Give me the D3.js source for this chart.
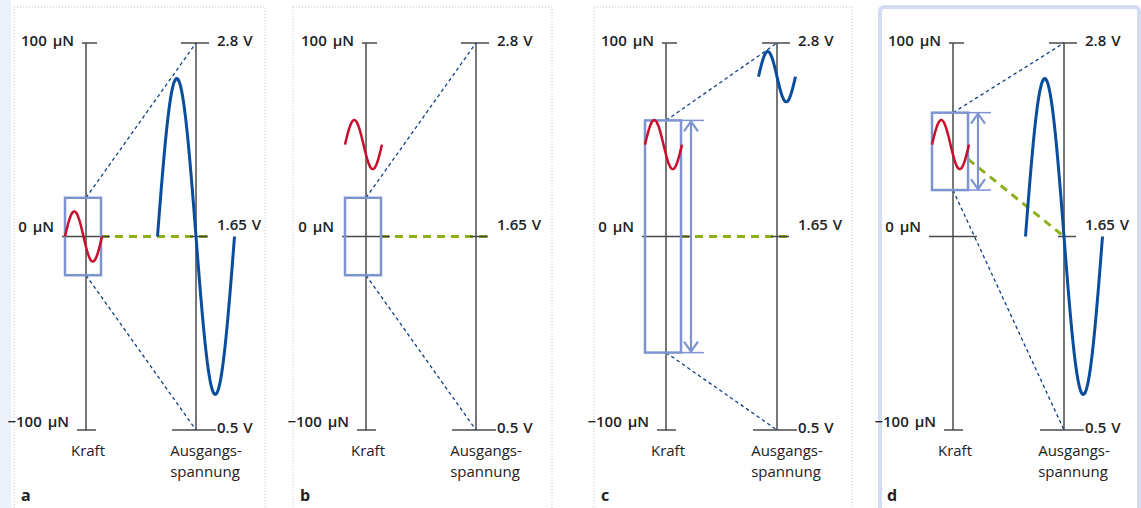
<!DOCTYPE html>
<html lang="de">
<head>
<meta charset="utf-8">
<script src="https://cdn.jsdelivr.net/npm/d3@7"></script>
<style>
  body { margin: 0; background: #fff; }
  text { font-family: "Open Sans", "DejaVu Sans", sans-serif; fill: #222; }
</style>
</head>
<body>
<svg id="chart"></svg>
<script>
// Daten
const panels = ["a", "b", "c", "d"];
const forceTicks = [100, 0, -100];
const forceTickLabels = ["100 µN", "0 µN", "−100 µN"];
const voltTicks = [2.8, 1.65, 0.5];
const voltTickLabels = ["2.8 V", "1.65 V", "0.5 V"];
// Messfenster (µN) pro Panel
const windowLow = [-20, -20, -60, 24];
const windowHigh = [20, 20, 60, 64];
// Kraftsignal (µN)
const forceCenter = [0, 47.5, 47.5, 47.5];
const forceAmp = [13, 12.7, 12.7, 12.7];
// Ausgangsspannung (V), null = kein Signal
const voltCenter = [1.65, null, 2.6, 1.65];
const voltAmp = [0.94, null, 0.15, 0.94];
// Ruhelage (µN), die auf 1.65 V abgebildet wird
const zeroForce = [0, 0, 0, 40];
const showArrow = [false, false, true, true];

// Layout
const width = 1141, height = 508;
const kraftX = [86, 366, 666, 953];
const outX = [196, 476, 777, 1064];
const frameL = [14, 293, 594, 880];
const frameR = [265, 552, 852, 1139];
const outSpan = [77, 0, 37, 77];
const greenExtra = [17, 17, 16, 0];

const svg = d3.select("#chart").attr("width", width).attr("height", height);

svg.append("rect").attr("width", width).attr("height", height).attr("fill", "#fff");
svg.append("rect").attr("x", 0).attr("y", 0).attr("width", 11).attr("height", height).attr("fill", "#edf1f9");

const yF = d3.scaleLinear().domain([-100, 100]).range([430, 43]);
const yV = d3.scaleLinear().domain([0.5, 2.8]).range([430, 43]);

const navy = "#0d3f86", blue = "#0a4d9c", red = "#c8102e", box = "#7d94d0", green = "#8cb11b", axis = "#4a4a4a";

const sineLine = d3.line().curve(d3.curveBasis);

function sine(x0, span, yc, amp) {
  const pts = [];
  for (let i = 0; i <= 60; i++) {
    const t = i / 60;
    pts.push([x0 + t * span, yc - amp * Math.sin(2 * Math.PI * t)]);
  }
  return pts;
}

panels.forEach((p, i) => {
  const g = svg.append("g");
  const kx = kraftX[i], ox = outX[i];

  // Rahmen
  if (i < 3) {
    g.append("rect")
      .attr("x", frameL[i]).attr("y", 7)
      .attr("width", frameR[i] - frameL[i]).attr("height", 520)
      .attr("fill", "none").attr("stroke", "#c4c4c4")
      .attr("stroke-width", 1).attr("stroke-dasharray", "1,2");
  } else {
    g.append("rect")
      .attr("x", frameL[i]).attr("y", 7)
      .attr("width", frameR[i] - frameL[i]).attr("height", 520)
      .attr("rx", 4)
      .attr("fill", "none").attr("stroke", "#d3ddf1").attr("stroke-width", 4);
  }

  const bx0 = kx - 21, bx1 = kx + 15;

  // grüne Ruhelinie
  g.append("line")
    .attr("x1", bx1).attr("y1", yF(zeroForce[i]))
    .attr("x2", ox + greenExtra[i]).attr("y2", yV(1.65))
    .attr("stroke", green).attr("stroke-width", 3)
    .attr("stroke-dasharray", "8,6");

  // Achsen
  [kx, ox].forEach(x => {
    g.append("line").attr("x1", x).attr("x2", x)
      .attr("y1", yF(100)).attr("y2", yF(-100))
      .attr("stroke", axis).attr("stroke-width", 1.5);
  });

  const fTickL = [-4, -24, -9], fTickR = [11, 24, 10];
  const fDy = [3, -5, -3];
  forceTicks.forEach((v, j) => {
    g.append("line")
      .attr("x1", kx + fTickL[j]).attr("x2", kx + fTickR[j])
      .attr("y1", yF(v)).attr("y2", yF(v))
      .attr("stroke", axis).attr("stroke-width", 1.5);
    g.append("text")
      .attr("x", kx + fTickL[j] - 8).attr("y", yF(v) + fDy[j])
      .attr("text-anchor", "end").attr("font-size", 15).attr("font-weight", 600)
      .attr("word-spacing", 2)
      .text(forceTickLabels[j]);
  });

  const vTickL = [-15, -6, -24], vTickR = [13, 12, 20];
  const vDy = [3, -7, 3];
  voltTicks.forEach((v, j) => {
    g.append("line")
      .attr("x1", ox + vTickL[j]).attr("x2", ox + vTickR[j])
      .attr("y1", yV(v)).attr("y2", yV(v))
      .attr("stroke", axis).attr("stroke-width", 1.5);
    g.append("text")
      .attr("x", ox + 21).attr("y", yV(v) + vDy[j])
      .attr("font-size", 15).attr("font-weight", 600)
      .attr("word-spacing", 1)
      .text(voltTickLabels[j]);
  });

  // Projektionslinien
  g.append("line")
    .attr("x1", kx).attr("y1", yF(windowHigh[i]))
    .attr("x2", ox).attr("y2", yV(2.8))
    .attr("stroke", navy).attr("stroke-width", 1.3).attr("stroke-dasharray", "3.5,3");
  g.append("line")
    .attr("x1", kx).attr("y1", yF(windowLow[i]))
    .attr("x2", ox).attr("y2", yV(0.5))
    .attr("stroke", navy).attr("stroke-width", 1.3).attr("stroke-dasharray", "3.5,3");

  // Messfenster
  g.append("rect")
    .attr("x", bx0).attr("y", yF(windowHigh[i]))
    .attr("width", bx1 - bx0).attr("height", yF(windowLow[i]) - yF(windowHigh[i]))
    .attr("fill", "none").attr("stroke", box).attr("stroke-width", 2.5);

  // Kraftsignal
  g.append("path")
    .attr("d", sineLine(sine(bx0, bx1 - bx0 + 1, yF(forceCenter[i]), yF(0) - yF(forceAmp[i]))))
    .attr("fill", "none").attr("stroke", red).attr("stroke-width", 2.5);

  // Ausgangssignal
  if (voltCenter[i] !== null) {
    const amp = yV(0.5) - yV(0.5 + voltAmp[i]);
    g.append("path")
      .attr("d", sineLine(sine(ox - outSpan[i] / 2, outSpan[i], yV(voltCenter[i]), amp)))
      .attr("fill", "none").attr("stroke", blue).attr("stroke-width", 3);
  }

  // Doppelpfeil
  if (showArrow[i]) {
    const ax = kx + 25, yt = yF(windowHigh[i]), yb = yF(windowLow[i]);
    [yt, yb].forEach(y => {
      g.append("line").attr("x1", bx1).attr("x2", kx + 38)
        .attr("y1", y).attr("y2", y)
        .attr("stroke", box).attr("stroke-width", 1.5);
    });
    g.append("line").attr("x1", ax).attr("x2", ax)
      .attr("y1", yt).attr("y2", yb)
      .attr("stroke", box).attr("stroke-width", 2.2);
    g.append("path")
      .attr("d", `M${ax - 7},${yt + 11}L${ax},${yt + 1}L${ax + 7},${yt + 11}M${ax - 7},${yb - 11}L${ax},${yb - 1}L${ax + 7},${yb - 11}`)
      .attr("fill", "none").attr("stroke", box).attr("stroke-width", 2.2);
  }

  // Achsentitel
  g.append("text").attr("x", kx + 2).attr("y", 456)
    .attr("text-anchor", "middle").attr("font-size", 15).text("Kraft");
  g.append("text").attr("x", ox + 10).attr("y", 456)
    .attr("text-anchor", "middle").attr("font-size", 15).text("Ausgangs-");
  g.append("text").attr("x", ox + 9).attr("y", 477)
    .attr("text-anchor", "middle").attr("font-size", 15).text("spannung");

  // Panelbuchstabe
  g.append("text").attr("x", frameL[i] + 7).attr("y", 501)
    .attr("font-size", 16).attr("font-weight", 700).text(p);
});
</script>
</body>
</html>
